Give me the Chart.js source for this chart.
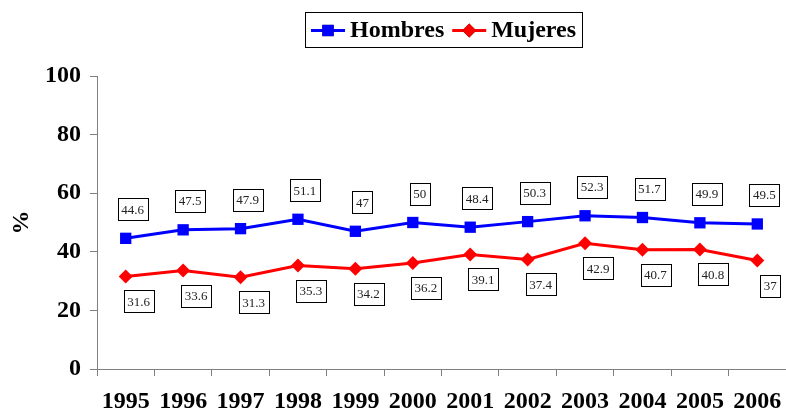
<!DOCTYPE html>
<html lang="es">
<head>
    <meta charset="UTF-8">
    <title>Hombres y Mujeres 1995-2006</title>
    <script src="https://cdn.jsdelivr.net/npm/chart.js"></script>
    <style>
        html, body { margin: 0; padding: 0; background: #fff; }
        #wrap { width: 786px; height: 412px; }
    </style>
</head>
<body>
    <div id="wrap"><canvas id="chart"></canvas></div>

    <script>
        // data
        var years = ['1995', '1996', '1997', '1998', '1999', '2000', '2001', '2002', '2003', '2004', '2005', '2006'];
        var hombres = [44.6, 47.5, 47.9, 51.1, 47, 50, 48.4, 50.3, 52.3, 51.7, 49.9, 49.5];
        var mujeres = [31.6, 33.6, 31.3, 35.3, 34.2, 36.2, 39.1, 37.4, 42.9, 40.7, 40.8, 37];
        var yTicks = [0, 20, 40, 60, 80, 100];

        var serif = "'Liberation Serif', 'Times New Roman', serif";

        // boxed value labels (above for Hombres, below for Mujeres)
        var boxLabels = {
            id: 'boxLabels',
            afterDatasetsDraw: function(chart) {
                var ctx = chart.ctx;
                ctx.save();
                ctx.font = '13px ' + serif;
                ctx.textAlign = 'center';
                ctx.textBaseline = 'middle';
                chart.data.datasets.forEach(function(ds, i) {
                    var meta = chart.getDatasetMeta(i);
                    var dx = i === 0 ? 7 : 13;
                    var dy = i === 0 ? -29 : 25;
                    meta.data.forEach(function(pt, j) {
                        var txt = String(ds.data[j]);
                        var w = ctx.measureText(txt).width + 7;
                        var h = 22;
                        var cx = pt.x + dx, cy = pt.y + dy;
                        ctx.fillStyle = '#fff';
                        ctx.fillRect(cx - w / 2, cy - h / 2, w, h);
                        ctx.strokeStyle = '#000';
                        ctx.lineWidth = 1;
                        ctx.strokeRect(Math.round(cx - w / 2) + 0.5, Math.round(cy - h / 2) + 0.5, Math.round(w), h);
                        ctx.fillStyle = '#222';
                        ctx.fillText(txt, cx, cy + 1);
                    });
                });
                ctx.restore();
            }
        };

        // Excel-style legend: line + marker, boxed
        var boxLegend = {
            id: 'boxLegend',
            afterDraw: function(chart) {
                var ctx = chart.ctx;
                ctx.save();
                ctx.font = 'bold 24px ' + serif;
                ctx.textBaseline = 'middle';
                var items = chart.data.datasets;
                var lineW = 34, gap = 5, spacing = 8;
                var total = 0;
                items.forEach(function(ds) { total += lineW + gap + ctx.measureText(ds.label).width; });
                total += spacing * (items.length - 1);
                var boxW = total + 12, boxH = 35;
                var x0 = 305;
                var y0 = 12;
                ctx.strokeStyle = '#000';
                ctx.lineWidth = 1;
                ctx.strokeRect(x0 + 0.5, y0 + 0.5, Math.round(boxW), boxH);
                var x = x0 + 6, cy = y0 + boxH / 2 + 1;
                items.forEach(function(ds) {
                    ctx.strokeStyle = ds.borderColor;
                    ctx.lineWidth = 3;
                    ctx.beginPath();
                    ctx.moveTo(x, cy);
                    ctx.lineTo(x + lineW, cy);
                    ctx.stroke();
                    Chart.helpers.drawPoint(ctx, {
                        pointStyle: ds.pointStyle,
                        radius: ds.pointRadius,
                        borderWidth: 0
                    }, x + lineW / 2, cy);
                    ctx.fillStyle = ds.pointBackgroundColor;
                    ctx.fill();
                    ctx.fillStyle = '#000';
                    ctx.fillText(ds.label, x + lineW + gap, cy);
                    x += lineW + gap + ctx.measureText(ds.label).width + spacing;
                });
                ctx.restore();
            }
        };

        var chart = new Chart(document.getElementById('chart').getContext('2d'), {
            type: 'line',
            data: {
                labels: years,
                datasets: [{
                    label: 'Hombres',
                    data: hombres,
                    borderColor: '#0000ff',
                    backgroundColor: '#0000ff',
                    pointBackgroundColor: '#0000ff',
                    pointBorderColor: '#0000ff',
                    pointStyle: 'rect',
                    pointRadius: 8,
                    pointBorderWidth: 0,
                    borderWidth: 3,
                    tension: 0
                }, {
                    label: 'Mujeres',
                    data: mujeres,
                    borderColor: '#ff0000',
                    backgroundColor: '#ff0000',
                    pointBackgroundColor: '#ff0000',
                    pointBorderColor: '#ff0000',
                    pointStyle: 'rectRot',
                    pointRadius: 7,
                    pointBorderWidth: 0,
                    borderWidth: 3,
                    tension: 0
                }]
            },
            options: {
                responsive: true,
                maintainAspectRatio: false,
                animation: false,
                layout: { autoPadding: false, padding: { top: 76, right: 0, left: 0, bottom: 0 } },
                plugins: {
                    legend: { display: false },
                    tooltip: { enabled: false }
                },
                scales: {
                    x: {
                        offset: true,
                        afterFit: function(scale) {
                            scale.height = 43;
                            scale.paddingLeft = 0;
                            scale.paddingRight = 0;
                        },
                        grid: { offset: true, drawOnChartArea: false, color: '#808080', tickLength: 7 },
                        border: { color: '#808080' },
                        ticks: { color: '#000', font: { family: serif, size: 24, weight: 'bold', lineHeight: 1 }, maxRotation: 0, autoSkip: false, padding: 14 }
                    },
                    y: {
                        min: 0,
                        max: 100,
                        afterFit: function(scale) {
                            scale.width = 97;
                            scale.paddingTop = 0;
                            scale.paddingBottom = 0;
                        },
                        afterBuildTicks: function(axis) {
                            axis.ticks = yTicks.map(function(v) { return { value: v }; });
                        },
                        grid: { drawOnChartArea: false, color: '#808080', tickLength: 7 },
                        border: { color: '#808080' },
                        title: { display: true, text: '%', color: '#000', font: { family: serif, size: 24, weight: 'bold' }, padding: { top: 7, bottom: 0 } },
                        ticks: { color: '#000', font: { family: serif, size: 24, weight: 'bold' }, padding: 9 }
                    }
                }
            },
            plugins: [boxLabels, boxLegend]
        });
    </script>
</body>
</html>
